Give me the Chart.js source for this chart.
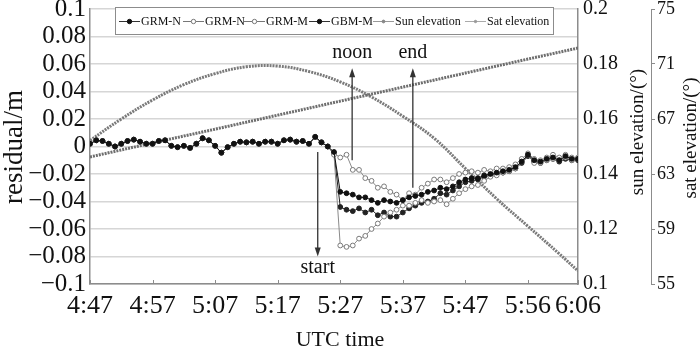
<!DOCTYPE html>
<html>
<head>
<meta charset="utf-8">
<script src="https://cdn.jsdelivr.net/npm/chart.js@4.4.0/dist/chart.umd.min.js"></script>
<style>
  html, body { margin: 0; padding: 0; background: #fff; }
</style>
</head>
<body>
<canvas id="residualChart" width="700" height="355"></canvas>
<script>
// x values are minutes after 4:47 UTC, one sample per minute for the residuals
var xTickMinutes = [0, 10, 20, 30, 40, 50, 60, 70, 78];
var xTickLabels = ['4:47', '4:57', '5:07', '5:17', '5:27', '5:37', '5:47', '5:56', '6:06'];

var residualTicks = [-0.1, -0.08, -0.06, -0.04, -0.02, 0, 0.02, 0.04, 0.06, 0.08, 0.1];
var residualTickLabels = ['\u22120.1', '\u22120.08', '\u22120.06', '\u22120.04', '\u22120.02', '0', '0.02', '0.04', '0.06', '0.08', '0.1'];
var sunTicks = [0.1, 0.12, 0.14, 0.16, 0.18, 0.2];
var sunTickLabels = ['0.1', '0.12', '0.14', '0.16', '0.18', '0.2'];
var satTicks = [55, 59, 63, 67, 71, 75];
var satTickLabels = ['55', '59', '63', '67', '71', '75'];

// minutes 0..38, all four solutions overlap here
var residualBefore = [
  0.002, 0.0045, 0.004, 0.002, 0.0, 0.002, 0.004, 0.005, 0.0035, 0.002,
  0.002, 0.004, 0.0045, 0.0005, -0.0005, 0.0005, -0.001, 0.002, 0.006, 0.0045,
  0.0005, -0.0045, -0.0005, 0.002, 0.0035, 0.003, 0.0035, 0.002, 0.0035, 0.0035,
  0.002, 0.0045, 0.005, 0.0035, 0.004, 0.002, 0.007, 0.003, 0.0
];

// minutes 39..78
var grmNAfter = [
  -0.004, -0.033, -0.034, -0.035, -0.037, -0.037, -0.039, -0.041, -0.039, -0.040,
  -0.041, -0.039, -0.037, -0.036, -0.035, -0.033, -0.032, -0.030, -0.031, -0.029,
  -0.026, -0.024, -0.023, -0.023, -0.021, -0.020, -0.019, -0.018, -0.017, -0.015,
  -0.011, -0.006, -0.010, -0.011, -0.009, -0.008, -0.010, -0.007, -0.009, -0.009
];
var grmN2After = [
  -0.006, -0.072, -0.073, -0.072, -0.067, -0.065, -0.060, -0.056, -0.051, -0.048,
  -0.046, -0.043, -0.043, -0.041, -0.039, -0.041, -0.040, -0.039, -0.042, -0.038,
  -0.034, -0.031, -0.029, -0.028, -0.025, -0.022, -0.021, -0.019, -0.018, -0.016,
  -0.011, -0.006, -0.012, -0.012, -0.010, -0.009, -0.010, -0.008, -0.010, -0.009
];
var grmMAfter = [
  -0.005, -0.008, -0.006, -0.017, -0.017, -0.023, -0.025, -0.030, -0.029, -0.033,
  -0.035, -0.039, -0.034, -0.035, -0.030, -0.027, -0.024, -0.024, -0.026, -0.023,
  -0.020, -0.019, -0.018, -0.019, -0.017, -0.018, -0.016, -0.016, -0.015, -0.013,
  -0.009, -0.005, -0.009, -0.010, -0.008, -0.006, -0.008, -0.006, -0.008, -0.008
];
var gbmMAfter = [
  -0.005, -0.044, -0.046, -0.047, -0.045, -0.048, -0.046, -0.050, -0.048, -0.051,
  -0.051, -0.048, -0.045, -0.043, -0.041, -0.040, -0.038, -0.034, -0.035, -0.032,
  -0.029, -0.026, -0.025, -0.024, -0.022, -0.021, -0.020, -0.019, -0.018, -0.016,
  -0.012, -0.007, -0.011, -0.012, -0.010, -0.009, -0.011, -0.009, -0.010, -0.010
];

var sunMinutes = [0, 10, 20, 30, 40, 50, 60, 70, 78];
var sunElevation = [0.1462, 0.1513, 0.1563, 0.1614, 0.1665, 0.1716, 0.1767, 0.1818, 0.1858];

var satMinutes = [0, 5, 10, 15, 20, 25, 30, 35, 40, 45, 50, 55, 60, 65, 70, 75, 78];
var satElevation = [65.44, 67.0, 68.38, 69.5, 70.3, 70.8, 70.85, 70.45, 69.7, 68.6, 67.2, 65.6, 63.4, 61.2, 59.2, 57.2, 55.95];

// arrows: minute, from value, to value, label value
var arrowNotes = [
  { text: 'start', t: 36.4, from: -0.004, to: -0.080, label: -0.0885 },
  { text: 'noon', t: 41.9, from: -0.010, to: 0.057, label: 0.068 },
  { text: 'end', t: 51.6, from: -0.030, to: 0.057, label: 0.068 }
];

var serif = '"Liberation Serif", "DejaVu Serif", serif';

function toPoints(values, xs) {
  return values.map(function (v, i) {
    return { x: xs ? xs[i] : i, y: v };
  });
}

function fixTicks(values) {
  return function (scale) {
    scale.ticks = values.map(function (v) { return { value: v }; });
  };
}

var ctxResidual = document.getElementById('residualChart').getContext('2d');

var dataResidual = {
  datasets: [{
    label: 'GRM-N',
    data: toPoints(residualBefore.concat(grmNAfter)),
    borderColor: '#111',
    borderWidth: 1,
    pointStyle: 'circle',
    pointRadius: 2.4,
    pointBackgroundColor: '#111',
    pointBorderColor: '#111',
    pointBorderWidth: 1,
    yAxisID: 'y'
  }, {
    label: 'GRM-N',
    data: toPoints(residualBefore.concat(grmN2After)),
    borderColor: '#8a8a8a',
    borderWidth: 1,
    pointStyle: 'circle',
    pointRadius: 2.4,
    pointBackgroundColor: '#fff',
    pointBorderColor: '#7a7a7a',
    pointBorderWidth: 1,
    yAxisID: 'y'
  }, {
    label: 'GRM-M',
    data: toPoints(residualBefore.concat(grmMAfter)),
    borderColor: '#8a8a8a',
    borderWidth: 1,
    pointStyle: 'circle',
    pointRadius: 2.4,
    pointBackgroundColor: '#fff',
    pointBorderColor: '#7a7a7a',
    pointBorderWidth: 1,
    yAxisID: 'y'
  }, {
    label: 'GBM-M',
    data: toPoints(residualBefore.concat(gbmMAfter)),
    borderColor: '#222',
    borderWidth: 1,
    pointStyle: 'circle',
    pointRadius: 2.4,
    pointBackgroundColor: '#222',
    pointBorderColor: '#222',
    pointBorderWidth: 1,
    yAxisID: 'y'
  }, {
    label: 'Sun elevation',
    data: toPoints(sunElevation, sunMinutes),
    borderColor: '#6e6e6e',
    borderWidth: 3,
    borderDash: [2, 1],
    pointRadius: 0,
    yAxisID: 'ySun'
  }, {
    label: 'Sat elevation',
    data: toPoints(satElevation, satMinutes),
    borderColor: '#7a7a7a',
    borderWidth: 3,
    borderDash: [2, 1],
    tension: 0.4,
    pointRadius: 0,
    yAxisID: 'ySat'
  }]
};

// legend entries follow the order of the original figure
var legendMarks = [
  { fill: '#111', stroke: '#111', line: '#333', r: 2.2 },
  { fill: '#fff', stroke: '#777', line: '#777', r: 2.2 },
  { fill: '#fff', stroke: '#777', line: '#777', r: 2.2 },
  { fill: '#111', stroke: '#111', line: '#333', r: 2.2 },
  { fill: '#888', stroke: '#888', line: '#999', r: 1.4 },
  { fill: '#999', stroke: '#999', line: '#aaa', r: 1.2 }
];
var legendSlots = [119, 183, 244, 309, 373, 465];

var extrasPlugin = {
  id: 'extras',
  afterDraw: function (chart) {
    var ctx = chart.ctx;
    var xs = chart.scales.x;
    var ys = chart.scales.y;
    var area = chart.chartArea;
    ctx.save();

    // inward ticks on the time axis
    ctx.strokeStyle = '#8c8c8c';
    ctx.lineWidth = 1;
    xTickMinutes.forEach(function (m) {
      var px = Math.round(xs.getPixelForValue(m)) + 0.5;
      ctx.beginPath();
      ctx.moveTo(px, area.bottom);
      ctx.lineTo(px, area.bottom - 4);
      ctx.stroke();
    });

    // arrows
    ctx.strokeStyle = '#333';
    ctx.fillStyle = '#333';
    ctx.lineWidth = 1.3;
    ctx.font = '20px ' + serif;
    ctx.textAlign = 'center';
    ctx.textBaseline = 'middle';
    arrowNotes.forEach(function (a) {
      var px = xs.getPixelForValue(a.t);
      var y1 = ys.getPixelForValue(a.from);
      var y2 = ys.getPixelForValue(a.to);
      var dir = y2 > y1 ? 1 : -1;
      ctx.beginPath();
      ctx.moveTo(px, y1);
      ctx.lineTo(px, y2 - dir * 6);
      ctx.stroke();
      ctx.beginPath();
      ctx.moveTo(px, y2);
      ctx.lineTo(px - 3, y2 - dir * 9);
      ctx.lineTo(px + 3, y2 - dir * 9);
      ctx.closePath();
      ctx.fill();
      ctx.fillStyle = '#111';
      ctx.fillText(a.text, px, ys.getPixelForValue(a.label));
      ctx.fillStyle = '#333';
    });

    // axis titles
    ctx.fillStyle = '#111';
    ctx.font = '22px ' + serif;
    ctx.fillText('UTC time', 340, 340);

    ctx.save();
    ctx.translate(15, 147);
    ctx.rotate(-Math.PI / 2);
    ctx.font = '27px ' + serif;
    ctx.fillText('residual/m', 0, 0);
    ctx.restore();

    ctx.save();
    ctx.translate(638, 132);
    ctx.rotate(-Math.PI / 2);
    ctx.font = '19px ' + serif;
    ctx.fillText('sun elevation/(\u00b0)', 0, 0);
    ctx.restore();

    ctx.save();
    ctx.translate(691, 138);
    ctx.rotate(-Math.PI / 2);
    ctx.font = '19px ' + serif;
    ctx.fillText('sat elevation/(\u00b0)', 0, 0);
    ctx.restore();

    // legend box
    var bx = 115, by = 7, bw = 438, bh = 27;
    ctx.fillStyle = '#fff';
    ctx.fillRect(bx, by, bw, bh);
    ctx.strokeStyle = '#8c8c8c';
    ctx.lineWidth = 1;
    ctx.strokeRect(bx + 0.5, by + 0.5, bw, bh);

    ctx.font = '12px ' + serif;
    ctx.textAlign = 'left';
    var cy = by + bh / 2 + 1;
    chart.data.datasets.forEach(function (ds, i) {
      var mk = legendMarks[i];
      var cx = legendSlots[i];
      ctx.strokeStyle = mk.line;
      ctx.lineWidth = 1;
      ctx.beginPath();
      ctx.moveTo(cx, cy);
      ctx.lineTo(cx + 21, cy);
      ctx.stroke();
      ctx.beginPath();
      ctx.arc(cx + 10.5, cy, mk.r, 0, Math.PI * 2);
      ctx.fillStyle = mk.fill;
      ctx.fill();
      ctx.strokeStyle = mk.stroke;
      ctx.stroke();
      ctx.fillStyle = '#111';
      ctx.fillText(ds.label, cx + 22, cy);
    });

    ctx.restore();
  }
};

var optionsResidual = {
  responsive: false,
  devicePixelRatio: 1,
  animation: false,
  layout: { padding: { top: 9, left: 0, right: 0, bottom: 0 } },
  plugins: {
    legend: { display: false },
    tooltip: { enabled: false }
  },
  scales: {
    x: {
      type: 'linear',
      min: 0,
      max: 78,
      afterBuildTicks: fixTicks(xTickMinutes),
      afterFit: function (s) { s.height = 71; s.paddingLeft = 0; s.paddingRight = 0; },
      ticks: {
        autoSkip: false,
        maxRotation: 0,
        padding: 7,
        color: '#111',
        font: { family: serif, size: 26 },
        callback: function (v, i) { return xTickLabels[i]; }
      },
      grid: { display: true, drawOnChartArea: false, drawTicks: false },
      border: { display: true, color: '#8c8c8c', width: 1.5 }
    },
    y: {
      position: 'left',
      min: -0.1,
      max: 0.1,
      afterBuildTicks: fixTicks(residualTicks),
      afterFit: function (s) { s.width = 90; s.paddingTop = 0; s.paddingBottom = 0; },
      ticks: {
        autoSkip: false,
        padding: 4,
        color: '#111',
        font: { family: serif, size: 25 },
        callback: function (v, i) { return residualTickLabels[i]; }
      },
      grid: { color: '#d6d6d6', lineWidth: 1.5, drawTicks: false },
      border: { display: true, color: '#8c8c8c', width: 1.5 }
    },
    ySun: {
      position: 'right',
      weight: 0,
      min: 0.1,
      max: 0.2,
      afterBuildTicks: fixTicks(sunTicks),
      afterFit: function (s) { s.width = 73; s.paddingTop = 0; s.paddingBottom = 0; },
      ticks: {
        autoSkip: false,
        padding: 5,
        color: '#111',
        font: { family: serif, size: 20 },
        callback: function (v, i) { return sunTickLabels[i]; }
      },
      grid: { drawOnChartArea: false, drawTicks: false },
      border: { display: true, color: '#8c8c8c', width: 1.5 }
    },
    ySat: {
      position: 'right',
      weight: 1,
      min: 55,
      max: 75,
      afterBuildTicks: fixTicks(satTicks),
      afterFit: function (s) { s.width = 49; s.paddingTop = 0; s.paddingBottom = 0; },
      ticks: {
        autoSkip: false,
        padding: 2,
        color: '#111',
        font: { family: serif, size: 18 },
        callback: function (v, i) { return satTickLabels[i]; }
      },
      grid: { drawOnChartArea: false, drawTicks: true, tickLength: 4, color: '#8c8c8c' },
      border: { display: true, color: '#8c8c8c', width: 1 }
    }
  }
};

var residualChart = new Chart(ctxResidual, {
  type: 'line',
  data: dataResidual,
  options: optionsResidual,
  plugins: [extrasPlugin]
});
</script>
</body>
</html>
